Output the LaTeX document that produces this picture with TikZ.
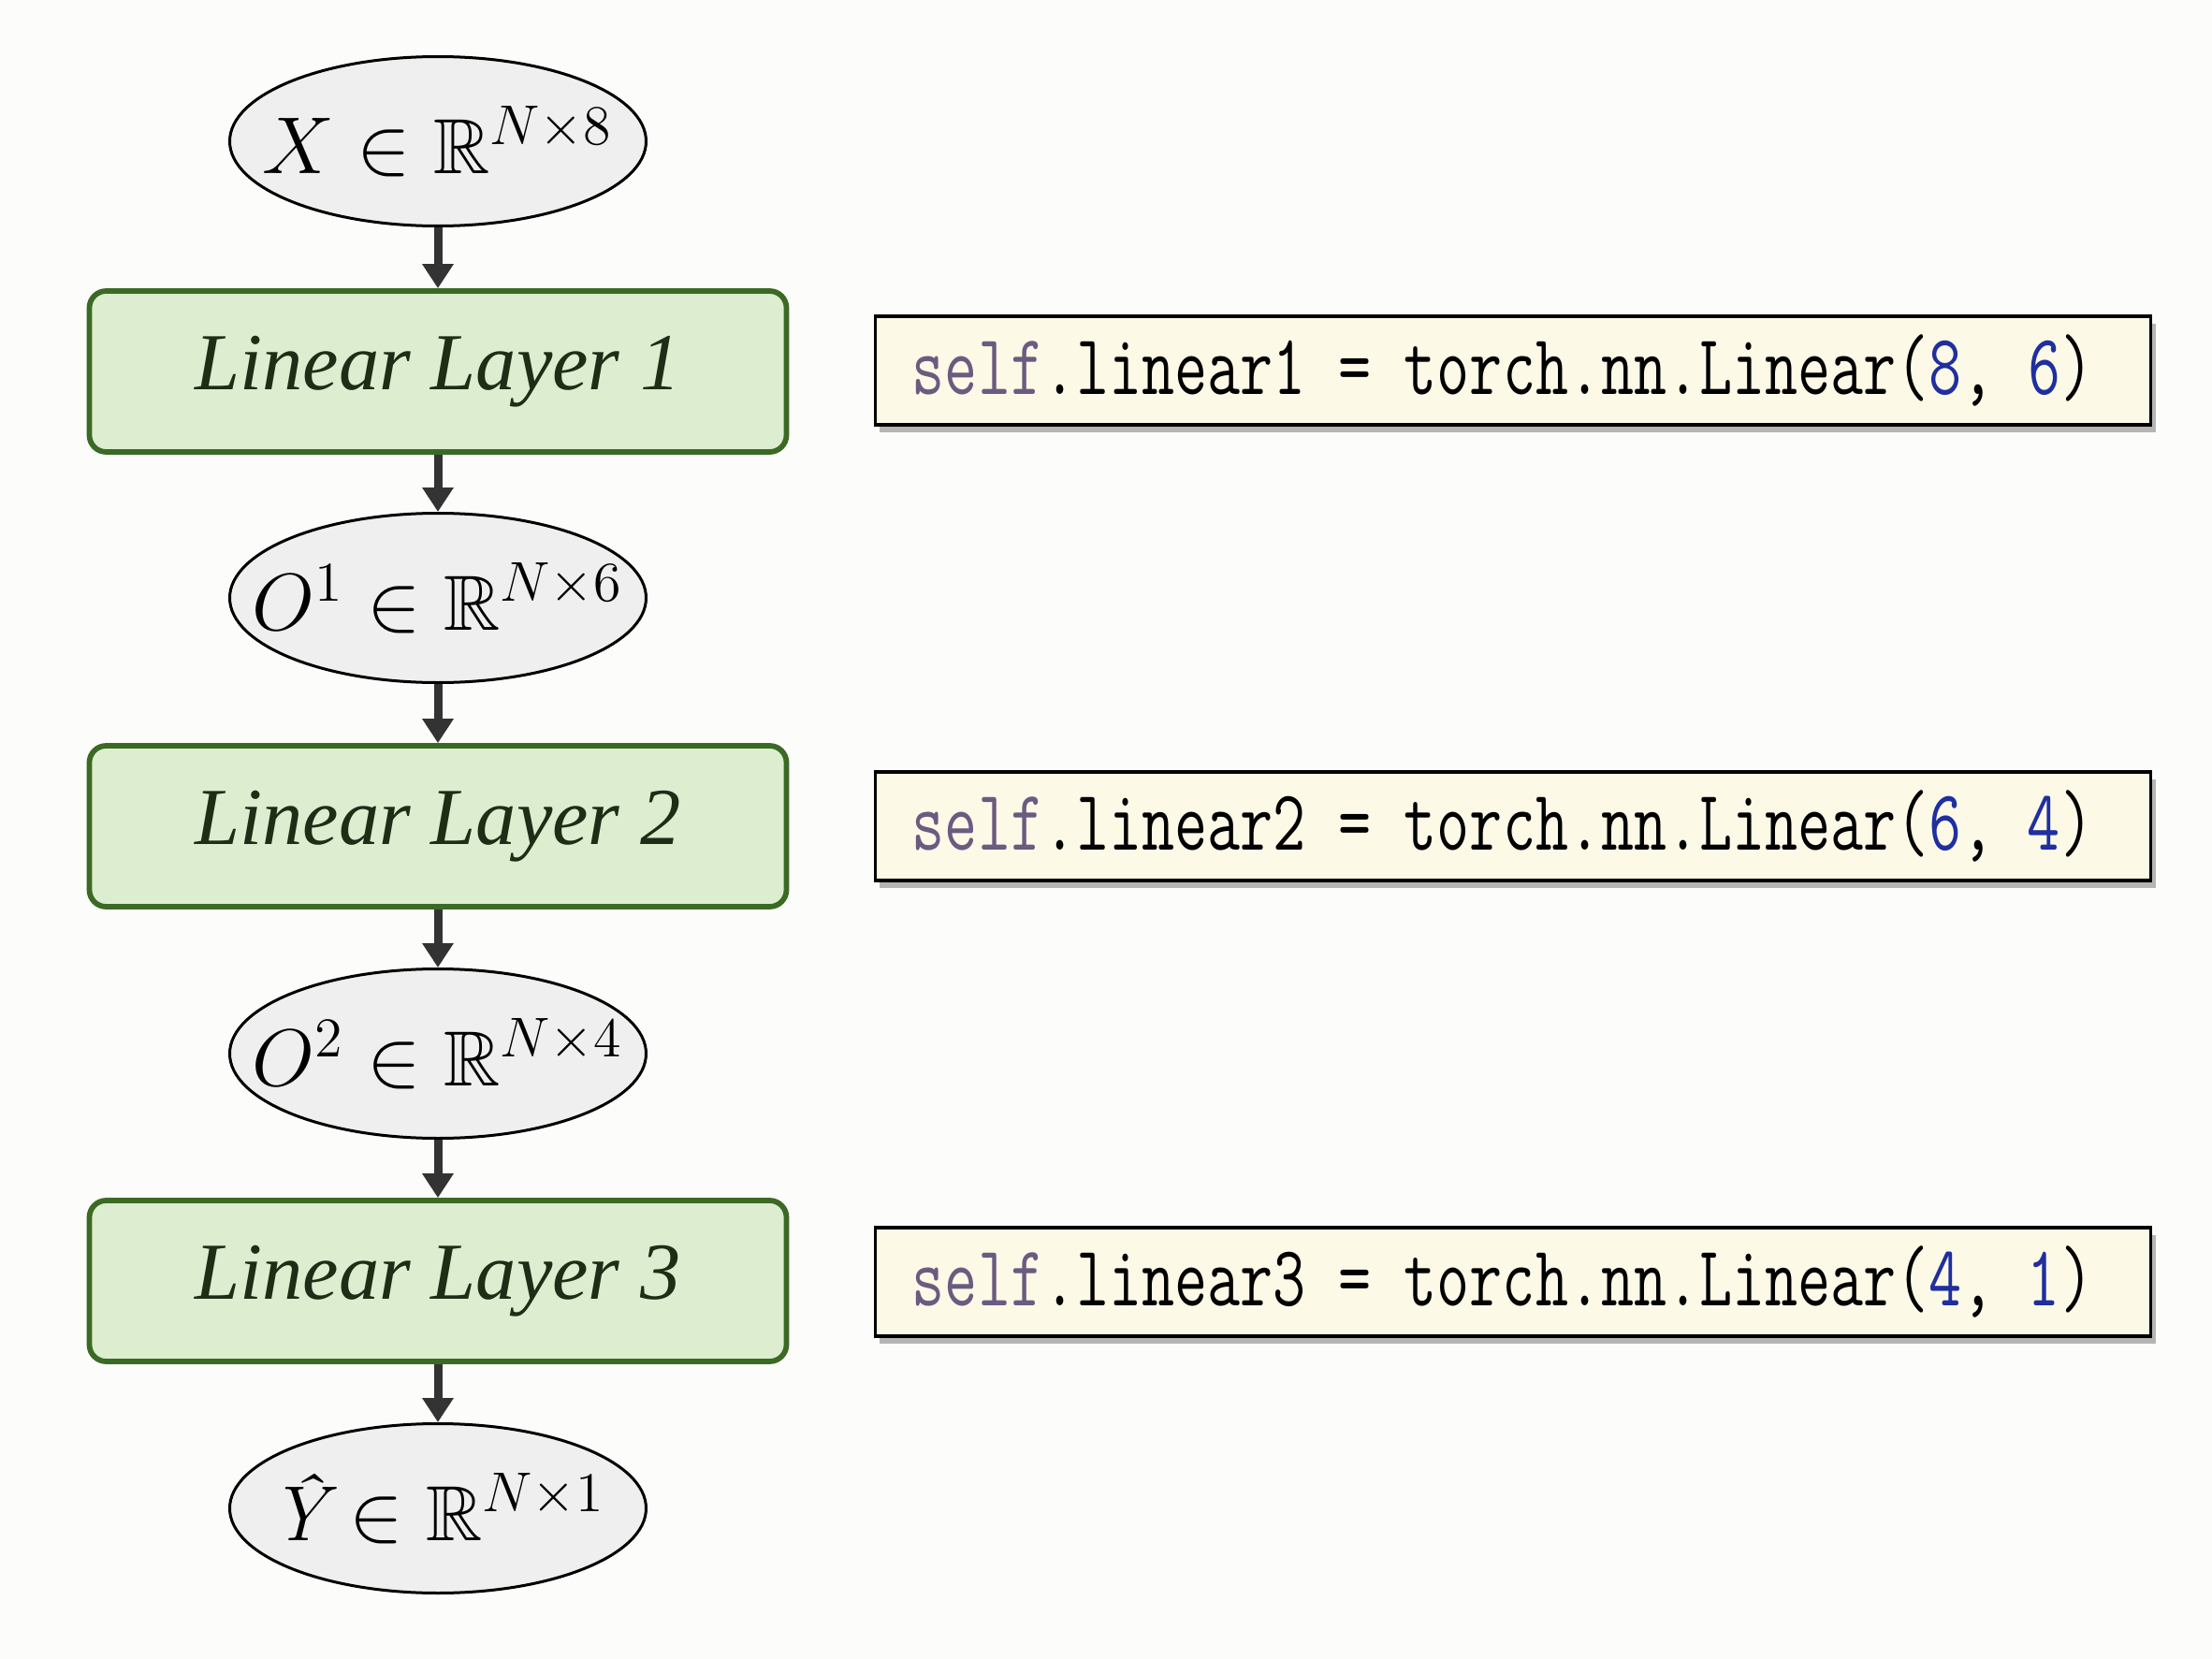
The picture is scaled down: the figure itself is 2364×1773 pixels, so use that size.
\documentclass[tikz,border=0pt]{standalone}
\usepackage{fontspec}
\usepackage{amssymb}
\usepackage{graphicx}
\usetikzlibrary{arrows.meta,shapes.geometric,shadows}
\newfontfamily\layerfont{Liberation Serif}
\definecolor{bgcol}{HTML}{FCFCFA}
\definecolor{ellfill}{HTML}{EFEFEF}
\definecolor{layerfill}{HTML}{DCEDD0}
\definecolor{layerdraw}{HTML}{3B6A24}
\definecolor{layertext}{HTML}{1E2D16}
\definecolor{codefill}{HTML}{FCF9E6}
\definecolor{selfcol}{HTML}{6B5B80}
\definecolor{numcol}{HTML}{1F2FA0}
\definecolor{arrowcol}{HTML}{333333}
\newcommand{\codeline}[3]{\scalebox{0.74}[1]{\fontsize{18.4}{22}\selectfont\ttfamily{\color{selfcol}self}.linear#1 = torch.nn.Linear({\color{numcol}#2}, {\color{numcol}#3})}\hspace*{4.4pt}}
\begin{document}
\begin{tikzpicture}[x=0.2pt,y=-0.2pt,
  dataell/.style={ellipse, draw=black, line width=0.6pt, fill=ellfill,
    minimum width=89pt, minimum height=36.2pt, inner sep=0pt,
    font=\fontsize{16.7}{20}\selectfont},
  layerbox/.style={rectangle, rounded corners=3.6pt, draw=layerdraw, line width=1.15pt,
    fill=layerfill, minimum width=149pt, minimum height=34.4pt, inner sep=0pt,
    text=layertext, font=\layerfont\itshape\fontsize{17.3}{20}\selectfont},
  codebox/.style={rectangle, draw=black, line width=0.7pt, fill=codefill,
    minimum width=272.6pt, minimum height=23.2pt, inner sep=0pt,
    drop shadow={shadow xshift=1pt, shadow yshift=-1.5pt, fill=black, opacity=0.28}},
  flowarrow/.style={draw=arrowcol, line width=1.8pt,
    -{Triangle[width=6.4pt,length=5.2pt]}, fill=arrowcol}
]
\fill[bgcol] (0,0) rectangle (2364,1773);
\useasboundingbox (0,0) rectangle (2364,1773);

\node[dataell] (x) at (468,151) {\makebox[0pt]{$X \in \mathbb{R}^{N\times 8}$}};
\node[layerbox] (l1) at (468,397) {\raisebox{-1.2pt}{Linear Layer 1}};
\node[dataell] (o1) at (468,639) {\makebox[0pt]{$O^{1} \in \mathbb{R}^{N\times 6}$}};
\node[layerbox] (l2) at (468,883) {\raisebox{-1.2pt}{Linear Layer 2}};
\node[dataell] (o2) at (468,1126) {\makebox[0pt]{$O^{2} \in \mathbb{R}^{N\times 4}$}};
\node[layerbox] (l3) at (468,1369) {\raisebox{-1.2pt}{Linear Layer 3}};
\node[dataell] (y) at (468,1612) {\makebox[0pt]{$\textit{Ŷ} \in \mathbb{R}^{N\times 1}$}};

\node[codebox] (c1) at (1617,396) {\codeline{1}{8}{6}};
\node[codebox] (c2) at (1617,883) {\codeline{2}{6}{4}};
\node[codebox] (c3) at (1617,1370) {\codeline{3}{4}{1}};

\draw[flowarrow] (x) -- (l1);
\draw[flowarrow] (l1) -- (o1);
\draw[flowarrow] (o1) -- (l2);
\draw[flowarrow] (l2) -- (o2);
\draw[flowarrow] (o2) -- (l3);
\draw[flowarrow] (l3) -- (y);
\end{tikzpicture}
\end{document}
